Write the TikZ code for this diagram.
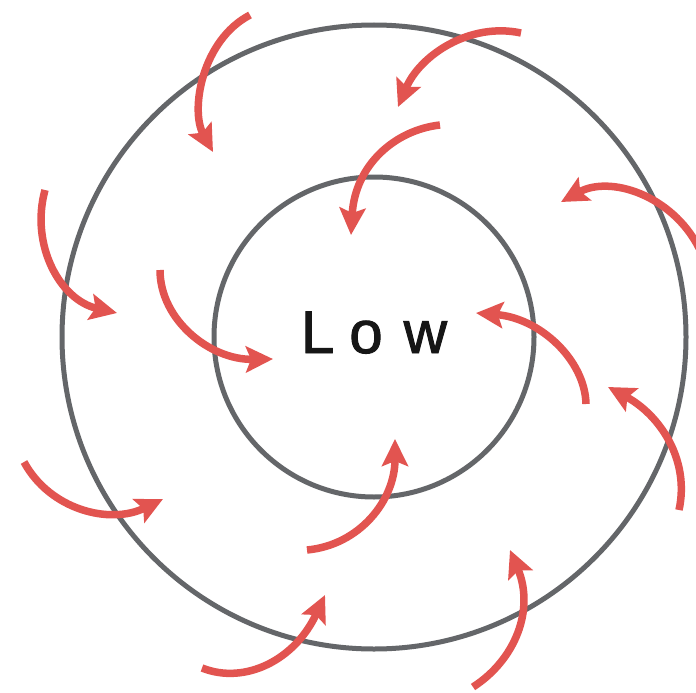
\documentclass[tikz,border=0pt]{standalone}
\usepackage{fontspec}
\newfontfamily\lowfont[FakeBold=1.6]{Liberation Sans}
\usetikzlibrary{arrows.meta}
\definecolor{ringgray}{RGB}{100,102,105}
\definecolor{windred}{RGB}{226,84,80}
\definecolor{textblack}{RGB}{22,22,22}
\tikzset{
  ring/.style={draw=ringgray, line width=5pt},
  wind/.style={draw=windred, line width=7.5pt,
    -{Stealth[length=27pt,width=26pt,inset=5pt,fill=windred]}},
  lowlabel/.style={inner sep=0pt, anchor=base, text=textblack,
    font=\lowfont\fontsize{60}{60}\selectfont}
}
\begin{document}
\begin{tikzpicture}[x=1pt,y=-1pt]
\useasboundingbox (0,0) rectangle (696,693);
\clip (0,0) rectangle (696,693);
\fill[white] (0,0) rectangle (696,693);
\coordinate (c) at (374,337);
\draw[ring] (c) circle[radius=312pt];
\draw[ring] (c) circle[radius=160pt];
\node[lowlabel] (low) at (374,353) {L\kern15pt o\kern21pt w};
% tails and heads
\coordinate (t1) at (250,15);  \coordinate (h1) at (213,152);
\coordinate (t2) at (521,33);  \coordinate (h2) at (398,107);
\coordinate (t3) at (440,125); \coordinate (h3) at (351,235);
\coordinate (t4) at (699,248); \coordinate (h4) at (561,202);
\coordinate (t5) at (45,190);  \coordinate (h5) at (117,313);
\coordinate (t6) at (160,270); \coordinate (h6) at (273,359);
\coordinate (t7) at (586,404); \coordinate (h7) at (476,313);
\coordinate (t8) at (679,510); \coordinate (h8) at (608,387);
\coordinate (t9) at (24,462);  \coordinate (h9) at (163,499);
\coordinate (t10) at (307,550); \coordinate (h10) at (395,439);
\coordinate (t11) at (202,668); \coordinate (h11) at (325,595);
\coordinate (t12) at (473,687); \coordinate (h12) at (510,550);
\draw[wind] (t1) .. controls (202,40) and (190,110) .. (h1);
\draw[wind] (t2) .. controls (470,22) and (420,55) .. (h2);
\draw[wind] (t3) .. controls (395,130) and (355,165) .. (h3);
\draw[wind] (t4) .. controls (672,195) and (610,175) .. (h4);
\draw[wind] (t5) .. controls (30,245) and (60,300) .. (h5);
\draw[wind] (t6) .. controls (160,320) and (210,360) .. (h6);
\draw[wind] (t7) .. controls (585,360) and (540,318) .. (h7);
\draw[wind] (t8) .. controls (690,460) and (660,415) .. (h8);
\draw[wind] (t9) .. controls (50,510) and (110,525) .. (h9);
\draw[wind] (t10) .. controls (360,545) and (395,500) .. (h10);
\draw[wind] (t11) .. controls (245,685) and (295,660) .. (h11);
\draw[wind] (t12) .. controls (515,660) and (535,610) .. (h12);
\end{tikzpicture}
\end{document}
